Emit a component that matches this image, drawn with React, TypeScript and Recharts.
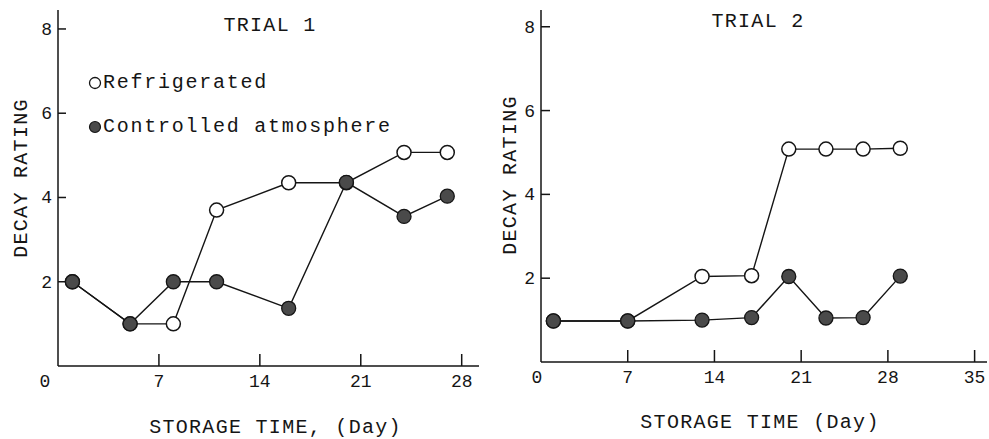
import React from 'react'
import { LineChart, Line, XAxis, YAxis, Label } from 'recharts'

// storage day of each sampling
const trial1Days = [1, 5, 8, 11, 16, 20, 24, 27]
const trial1Refrigerated = [2, 1, 1, 3.7, 4.35, 4.35, 5.07, 5.07]
const trial1Controlled = [2, 1, 2, 2, 1.37, 4.36, 3.55, 4.03]

const trial2Days = [1, 7, 13, 17, 20, 23, 26, 29]
const trial2Refrigerated = [0.98, 0.98, 2.04, 2.06, 5.08, 5.08, 5.08, 5.1]
const trial2Controlled = [0.98, 0.98, 1, 1.06, 2.04, 1.05, 1.06, 2.05]

const trial1XTicks = [0, 7, 14, 21, 28]
const trial2XTicks = [0, 7, 14, 21, 28, 35]
const yTicks = [2, 4, 6, 8]

const FONT = '"Liberation Mono", "DejaVu Sans Mono", monospace'
const INK = '#151515'
const DARK_FILL = '#4a4a4a'

const makeXTick = (zeroShift: number) => (props: any) => {
  const { x, y, payload } = props
  const v = payload.value
  return (
    <g>
      {v !== 0 && <line x1={x} y1={y} x2={x} y2={y - 12} stroke={INK} strokeWidth={1.5} />}
      <text x={v === 0 ? x + zeroShift : x} y={y + 21} textAnchor="middle"
        fontFamily={FONT} fontSize={18} fill={INK}>{v}</text>
    </g>
  )
}

const makeYTick = (len: number) => (props: any) => {
  const { x, y, payload } = props
  return (
    <g>
      <line x1={x} y1={y} x2={x + len} y2={y} stroke={INK} strokeWidth={1.5} />
      <text x={x - 6} y={y + 6} textAnchor="end" fontFamily={FONT} fontSize={18} fill={INK}>
        {payload.value}
      </text>
    </g>
  )
}

const openDot = { r: 7, fill: '#fff', stroke: INK, strokeWidth: 1.5 }
const filledDot = { r: 7, fill: DARK_FILL, stroke: INK, strokeWidth: 1.3 }

const titleText = {
  fontFamily: FONT,
  fontSize: 20,
  letterSpacing: 1.3,
  fill: INK,
}

const legendText = { ...titleText, letterSpacing: 1.75 }

interface TrialProps {
  days: number[]
  refrigerated: number[]
  controlled: number[]
  xTicks: number[]
  xMax: number
  yMax: number
  width: number
  yAxisWidth: number
  xAxisHeight: number
  marginRight: number
  zeroShift: number
  yTickLen: number
  xTitle: string
  xTitleShift: number
  xTitleDrop: number
  yTitleX: number
  yTitleY: number
}

function TrialChart(p: TrialProps) {
  const data = p.days.map((day, i) => ({
    day,
    refrigerated: p.refrigerated[i],
    controlled: p.controlled[i],
  }))

  return (
    <LineChart width={p.width} height={439} data={data}
      margin={{ top: 10, right: p.marginRight, bottom: 0, left: 0 }}>
      <XAxis type="number" dataKey="day" domain={[0, p.xMax]} ticks={p.xTicks}
        allowDataOverflow tickSize={0} tickMargin={0} tickLine={false}
        height={p.xAxisHeight} axisLine={{ stroke: INK, strokeWidth: 1.5 }}
        tick={makeXTick(p.zeroShift)}>
        <Label content={(lp: any) => {
          const vb = lp.viewBox
          return (
            <text x={vb.x + vb.width / 2 + p.xTitleShift} y={vb.y + p.xTitleDrop}
              textAnchor="middle" {...titleText}>{p.xTitle}</text>
          )
        }} />
      </XAxis>
      <YAxis type="number" domain={[0, p.yMax]} ticks={yTicks} allowDataOverflow
        width={p.yAxisWidth} tickSize={0} tickMargin={0} tickLine={false}
        axisLine={{ stroke: INK, strokeWidth: 1.5 }} tick={makeYTick(p.yTickLen)}>
        <Label content={() => (
          <text x={p.yTitleX} y={p.yTitleY} textAnchor="middle"
            transform={`rotate(-90 ${p.yTitleX} ${p.yTitleY})`} {...titleText}>
            DECAY RATING
          </text>
        )} />
      </YAxis>
      <Line type="linear" dataKey="refrigerated" stroke={INK} strokeWidth={1.4}
        dot={openDot} activeDot={false} isAnimationActive={false} />
      <Line type="linear" dataKey="controlled" stroke={INK} strokeWidth={1.4}
        dot={filledDot} activeDot={false} isAnimationActive={false} />
    </LineChart>
  )
}

export default function App() {
  return (
    <div style={{ position: 'absolute', left: 0, top: 0, width: 989, height: 439, background: '#fff' }}>
      <div style={{ position: 'absolute', left: 0, top: 0 }}>
        <TrialChart days={trial1Days} refrigerated={trial1Refrigerated} controlled={trial1Controlled}
          xTicks={trial1XTicks} xMax={29.2} yMax={8.45} width={490} yAxisWidth={58}
          xAxisHeight={73} marginRight={11} zeroShift={-13} yTickLen={8}
          xTitle="STORAGE TIME, (Day)" xTitleShift={7} xTitleDrop={67}
          yTitleX={27} yTitleY={178} />
      </div>
      <div style={{ position: 'absolute', left: 490, top: 0 }}>
        <TrialChart days={trial2Days} refrigerated={trial2Refrigerated} controlled={trial2Controlled}
          xTicks={trial2XTicks} xMax={36} yMax={8.4} width={499} yAxisWidth={51}
          xAxisHeight={77} marginRight={2} zeroShift={-4} yTickLen={9}
          xTitle="STORAGE TIME (Day)" xTitleShift={-4} xTitleDrop={66}
          yTitleX={26} yTitleY={175} />
      </div>
      <svg width={989} height={439} style={{ position: 'absolute', left: 0, top: 0, pointerEvents: 'none' }}>
        <text x={270} y={31} textAnchor="middle" {...titleText}>TRIAL 1</text>
        <text x={758} y={27} textAnchor="middle" {...titleText}>TRIAL 2</text>
        <circle cx={95} cy={83} r={5.5} fill="#fff" stroke={INK} strokeWidth={1.3} />
        <text x={103} y={88} {...legendText}>Refrigerated</text>
        <circle cx={95} cy={127} r={5.5} fill={DARK_FILL} stroke={INK} strokeWidth={1.2} />
        <text x={103} y={132} {...legendText}>Controlled atmosphere</text>
      </svg>
    </div>
  )
}
